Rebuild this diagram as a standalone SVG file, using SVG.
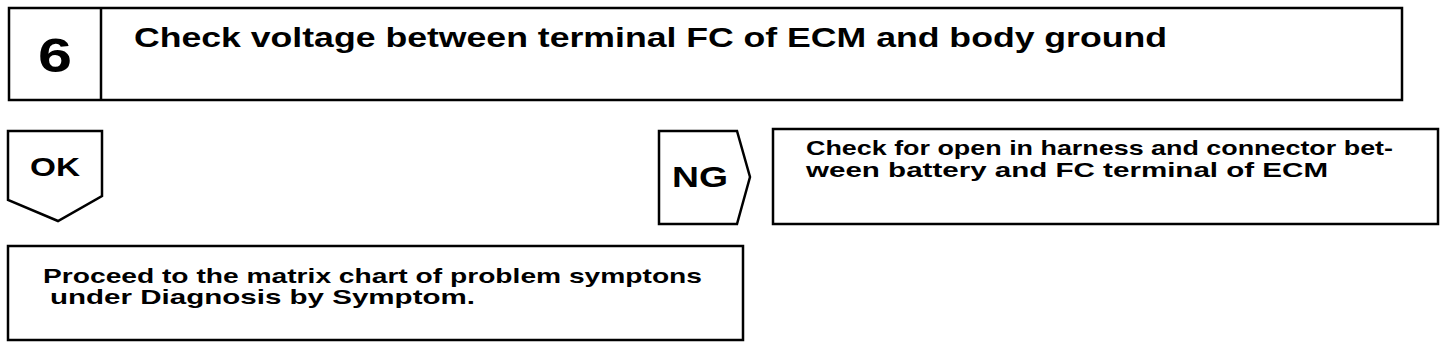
<svg xmlns="http://www.w3.org/2000/svg" width="1456" height="348" viewBox="0 0 1456 348">
<style>
.box{fill:#fff;stroke:#000;stroke-width:2.5;stroke-linejoin:miter}
.t{font-family:"Liberation Sans",Arial,sans-serif;font-weight:bold;fill:#000}
</style>
<rect width="1456" height="348" fill="#fff"/>
<g id="step6">
<rect class="box" x="9" y="8" width="1393" height="92"/>
<line x1="101" y1="8" x2="101" y2="100" stroke="#000" stroke-width="2.5"/>
<text class="t" x="38" y="72" font-size="49" textLength="34" lengthAdjust="spacingAndGlyphs">6</text>
<text class="t" x="134" y="47" font-size="28" textLength="1033" lengthAdjust="spacingAndGlyphs">Check voltage between terminal FC of ECM and body ground</text>
</g>
<g id="ok">
<polygon class="box" points="8,131 102,131 102,196 58,221 8,200"/>
<text class="t" x="30" y="176" font-size="26" textLength="50" lengthAdjust="spacingAndGlyphs">OK</text>
</g>
<g id="ng">
<polygon class="box" points="659,131 737,131 750,177 737,224 659,224"/>
<text class="t" x="672" y="187" font-size="30" textLength="56" lengthAdjust="spacingAndGlyphs">NG</text>
</g>
<g id="ng-result">
<rect class="box" x="773" y="129" width="665" height="95"/>
<text class="t" x="806" y="155" font-size="21" textLength="587" lengthAdjust="spacingAndGlyphs">Check for open in harness and connector bet-</text>
<text class="t" x="806" y="177" font-size="21" textLength="522" lengthAdjust="spacingAndGlyphs">ween  battery  and  FC  terminal  of  ECM</text>
</g>
<g id="ok-result">
<rect class="box" x="8" y="246" width="735" height="94"/>
<text class="t" x="43" y="283" font-size="21" textLength="659" lengthAdjust="spacingAndGlyphs">Proceed to the matrix chart of problem symptons</text>
<text class="t" x="50" y="304" font-size="21" textLength="425" lengthAdjust="spacingAndGlyphs">under Diagnosis by Symptom.</text>
</g>
<g id="connectors"></g>
</svg>
